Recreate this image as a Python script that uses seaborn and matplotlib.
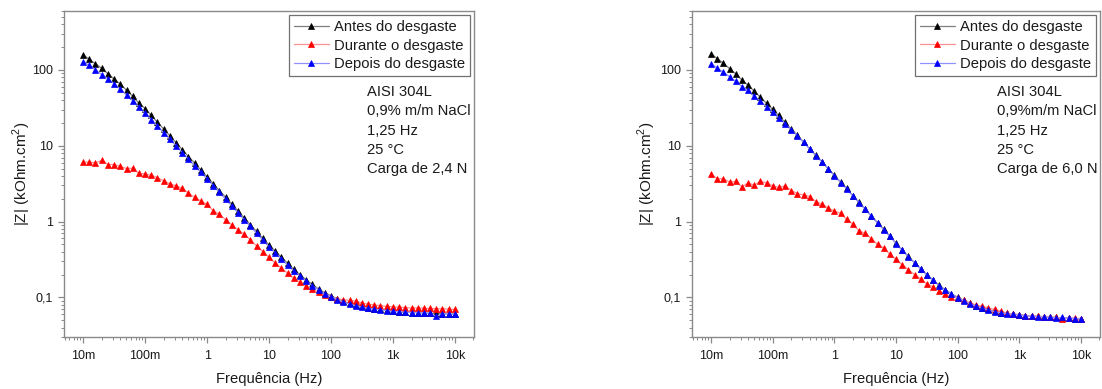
import numpy as np
import pandas as pd
import seaborn as sns
import matplotlib
matplotlib.use("Agg")
import matplotlib.pyplot as plt
from matplotlib.ticker import FixedLocator, FixedFormatter, LogLocator, NullFormatter

# ---------------- data ----------------
freq = [0.01, 0.0126, 0.0158, 0.02, 0.0251, 0.0316, 0.0398, 0.0501, 0.0631, 0.0794,
        0.1, 0.126, 0.158, 0.2, 0.251, 0.316, 0.398, 0.501, 0.631, 0.794,
        1, 1.26, 1.58, 2, 2.51, 3.16, 3.98, 5.01, 6.31, 7.94,
        10, 12.6, 15.8, 20, 25.1, 31.6, 39.8, 50.1, 63.1, 79.4,
        100, 126, 158, 200, 251, 316, 398, 501, 631, 794,
        1000, 1260, 1580, 2000, 2510, 3160, 3980, 5010, 6310, 7940, 10000]

# Left panel (2,4 N)
antes_24 = [158, 138, 120, 105, 89, 76, 65, 54, 45, 36.3, 30.9,
            25.1, 20.4, 16.6, 13.5, 11.0, 8.9, 7.2, 5.9, 4.8, 3.9,
            3.16, 2.57, 2.09, 1.70, 1.38, 1.12, 0.91, 0.74, 0.60, 0.49,
            0.407, 0.339, 0.282, 0.234, 0.200, 0.170, 0.148, 0.129, 0.115, 0.105,
            0.0955, 0.0891, 0.0832, 0.0794, 0.0759, 0.0724, 0.0708, 0.0692, 0.0676, 0.0661,
            0.0646, 0.0638, 0.0631, 0.0631, 0.0624, 0.0617, 0.0617, 0.0610, 0.0603, 0.0603]
durante_24 = [6.08, 6.08, 5.96, 6.40, 5.66, 5.66, 5.33, 5.01, 5.07, 4.31, 4.27,
              4.06, 3.80, 3.44, 3.15, 2.96, 2.75, 2.37, 2.09, 1.87, 1.68,
              1.38, 1.25, 1.05, 0.904, 0.776, 0.681, 0.573, 0.479, 0.402, 0.338,
              0.284, 0.242, 0.209, 0.178, 0.158, 0.141, 0.129, 0.117, 0.107, 0.101,
              0.0955, 0.0933, 0.0912, 0.0891, 0.0841, 0.0813, 0.0794, 0.0776, 0.0759, 0.0750,
              0.0741, 0.0733, 0.0724, 0.0724, 0.0716, 0.0716, 0.0708, 0.0708, 0.0700, 0.0692]
depois_24 = [129, 115, 100, 87, 76.7, 66, 55.6, 46.8, 39.4, 32.7, 26.9,
             22.1, 18.2, 14.8, 12.2, 10.0, 8.13, 6.61, 5.43, 4.47, 3.67,
             2.99, 2.43, 1.97, 1.60, 1.30, 1.06, 0.861, 0.700, 0.569, 0.462,
             0.385, 0.320, 0.266, 0.224, 0.191, 0.164, 0.143, 0.126, 0.112, 0.102,
             0.0933, 0.0871, 0.0813, 0.0776, 0.0741, 0.0716, 0.0700, 0.0684, 0.0668, 0.0653,
             0.0646, 0.0638, 0.0631, 0.0631, 0.0624, 0.0617, 0.0562, 0.0610, 0.0603, 0.0596]

# Right panel (6,0 N)
antes_60 = [164, 141, 123, 104, 89, 74, 63, 52.5, 43.6, 36.3, 30.2,
            25.1, 20.4, 16.6, 13.8, 11.2, 9.12, 7.52, 6.17, 5.01, 4.07,
            3.31, 2.75, 2.19, 1.80, 1.47, 1.19, 0.97, 0.794, 0.646, 0.518,
            0.423, 0.347, 0.288, 0.240, 0.200, 0.170, 0.145, 0.126, 0.112, 0.100,
            0.0912, 0.0832, 0.0776, 0.0724, 0.0692, 0.0653, 0.0631, 0.0617, 0.0603, 0.0589,
            0.0575, 0.0569, 0.0562, 0.0556, 0.0550, 0.0543, 0.0537, 0.0531, 0.0525, 0.0513]
durante_60 = [4.27, 3.66, 3.70, 3.31, 3.39, 2.88, 3.24, 3.02, 3.39, 3.24, 2.95,
              2.82, 2.95, 2.57, 2.34, 2.24, 2.14, 1.84, 1.70, 1.51, 1.37,
              1.29, 1.07, 0.923, 0.753, 0.701, 0.596, 0.501, 0.447, 0.372, 0.316,
              0.269, 0.232, 0.200, 0.174, 0.151, 0.138, 0.123, 0.110, 0.102, 0.0977,
              0.0912, 0.0851, 0.0794, 0.0759, 0.0724, 0.0692, 0.0653, 0.0617, 0.0603, 0.0589,
              0.0575, 0.0569, 0.0562, 0.0556, 0.0550, 0.0543, 0.0513, 0.0537, 0.0531, 0.0525]
depois_60 = [120, 106, 93.3, 81.3, 70.8, 60.3, 53.7, 44.7, 38.9, 32.7, 27.5,
             23.2, 19.5, 16.2, 13.6, 11.1, 9.02, 7.41, 6.10, 4.95, 4.03,
             3.27, 2.72, 2.16, 1.78, 1.45, 1.17, 0.955, 0.785, 0.638, 0.513,
             0.417, 0.343, 0.285, 0.237, 0.197, 0.168, 0.143, 0.124, 0.111, 0.0989,
             0.0902, 0.0822, 0.0767, 0.0716, 0.0684, 0.0646, 0.0624, 0.0610, 0.0596, 0.0582,
             0.0569, 0.0562, 0.0556, 0.0550, 0.0543, 0.0537, 0.0543, 0.0531, 0.0525, 0.0519]

series_names = ["Antes do desgaste", "Durante o desgaste", "Depois do desgaste"]
x_ticks = [0.01, 0.1, 1, 10, 100, 1000, 10000]
x_tick_labels = ["10m", "100m", "1", "10", "100", "1k", "10k"]
y_ticks = [0.1, 1, 10, 100]
y_tick_labels = ["0,1", "1", "10", "100"]
notes_left = "AISI 304L\n0,9% m/m NaCl\n1,25 Hz\n25 \u00b0C\nCarga de 2,4 N"
notes_right = "AISI 304L\n0,9%m/m NaCl\n1,25 Hz\n25 \u00b0C\nCarga de 6,0 N"
xlabel = "Frequência (Hz)"
ylabel = "|Z| (kOhm.cm$^2$)"

# ---------------- style ----------------
sns.set_theme(style="white")
plt.rcParams["font.family"] = ["Liberation Sans", "DejaVu Sans"]
plt.rcParams["mathtext.fontset"] = "custom"
plt.rcParams["mathtext.rm"] = "Liberation Sans"

marker_colors = ["#000000", "#ff0000", "#0000ff"]
line_colors = ["#7f7f7f", "#ff9090", "#9090ff"]
spine_col = "#8a8a8a"
text_col = "#1a1a1a"

fig = plt.figure(figsize=(11.02, 3.89), dpi=100)
ax1 = fig.add_axes([64 / 1102, 1 - 337 / 389, 410 / 1102, 326 / 389])
ax2 = fig.add_axes([692 / 1102, 1 - 337 / 389, 408 / 1102, 326 / 389])

panels = [
    (ax1, [antes_24, durante_24, depois_24], notes_left, 0.740, -0.102),
    (ax2, [antes_60, durante_60, depois_60], notes_right, 0.748, -0.110),
]

for ax, vals_list, notes, note_x, ylab_x in panels:
    frames = []
    for name, vals in zip(series_names, vals_list):
        frames.append(pd.DataFrame({"f": freq, "z": vals, "serie": name}))
    df = pd.concat(frames, ignore_index=True)
    handles = []
    for name, mc, lc in zip(series_names, marker_colors, line_colors):
        sub = df[df["serie"] == name]
        sns.lineplot(data=sub, x="f", y="z", ax=ax, color=lc, lw=0.9,
                     marker="^", markersize=5.0, markerfacecolor=mc,
                     markeredgecolor=mc, markeredgewidth=0.5,
                     estimator=None, sort=False)
        handles.append(ax.lines[-1])
    ax.set_xscale("log")
    ax.set_yscale("log")
    ax.set_xlim(0.0049, 20400)
    ax.set_ylim(0.03, 600)
    ax.xaxis.set_major_locator(FixedLocator(x_ticks))
    ax.xaxis.set_major_formatter(FixedFormatter(x_tick_labels))
    ax.yaxis.set_major_locator(FixedLocator(y_ticks))
    ax.yaxis.set_major_formatter(FixedFormatter(y_tick_labels))
    ax.xaxis.set_minor_locator(LogLocator(base=10, subs=np.arange(2, 10), numticks=20))
    ax.yaxis.set_minor_locator(LogLocator(base=10, subs=np.arange(2, 10), numticks=20))
    ax.xaxis.set_minor_formatter(NullFormatter())
    ax.yaxis.set_minor_formatter(NullFormatter())
    ax.tick_params(which="major", direction="out", length=4.5, width=0.9,
                   color=spine_col, labelsize=9, labelcolor=text_col,
                   bottom=True, left=True, pad=3.5)
    ax.tick_params(which="major", axis="x", pad=5)
    ax.tick_params(which="minor", direction="out", length=2.5, width=0.7,
                   color=spine_col, bottom=True, left=True)
    for sp in ax.spines.values():
        sp.set_color(spine_col)
        sp.set_linewidth(1.0)
        sp.set_visible(True)
    ax.set_xlabel(xlabel, fontsize=10.6, color=text_col)
    ax.set_ylabel(ylabel, fontsize=11, color=text_col)
    ax.xaxis.set_label_coords(0.5, -0.128)
    ax.xaxis.label.set_va("center")
    ax.yaxis.set_label_coords(ylab_x, 0.5)
    ax.yaxis.label.set_va("center")
    leg = ax.legend(handles, series_names, loc="upper right", fontsize=10.6,
                    frameon=True, fancybox=False, framealpha=1,
                    edgecolor="#707070", borderaxespad=0.3,
                    handlelength=2.4, handletextpad=0.35, borderpad=0.3,
                    labelspacing=0.32, markerscale=0.75)
    leg.get_frame().set_linewidth(0.9)
    for t in leg.get_texts():
        t.set_color(text_col)
    ax.text(note_x, 0.772, notes, transform=ax.transAxes,
            fontsize=10.6, va="top", ha="left", linespacing=1.47, color=text_col)

fig.savefig("out.png", dpi=100, facecolor="white")
